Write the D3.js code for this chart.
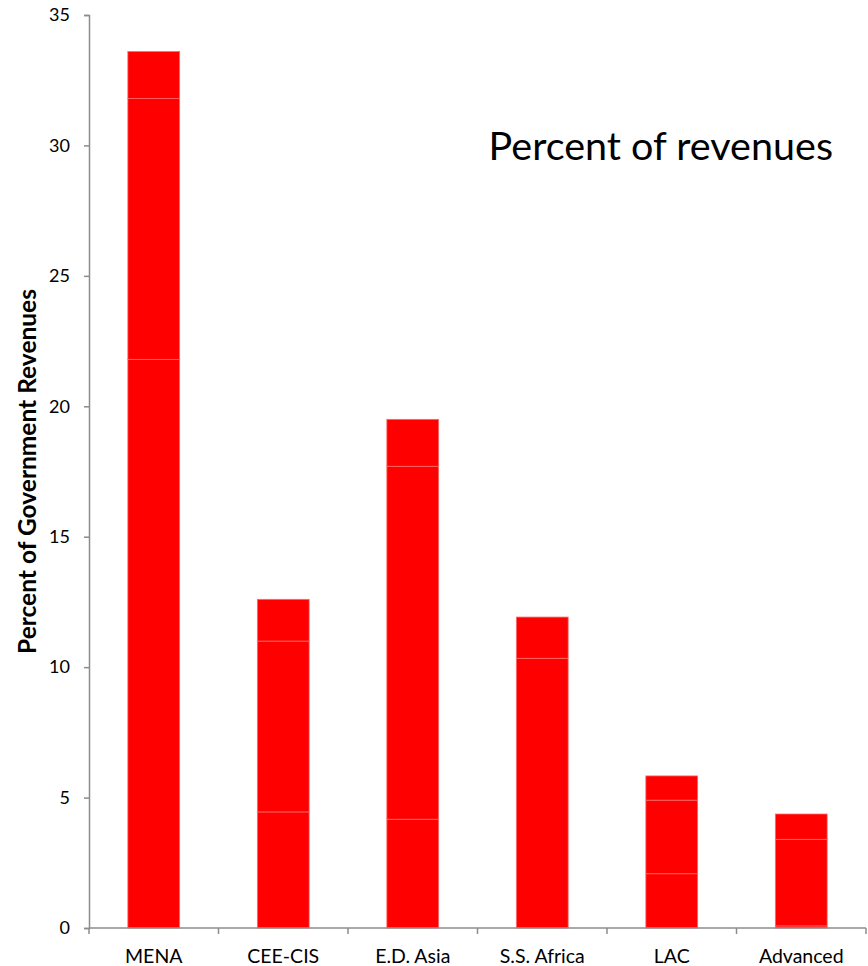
<!DOCTYPE html>
<html>
<head>
<meta charset="utf-8">
<script src="https://cdn.jsdelivr.net/npm/d3@7"></script>
<style>
  body { margin: 0; background: #fff; }
  svg { display: block; }
</style>
</head>
<body>
<svg id="chart" width="868" height="966"></svg>
<script>
const categories = ["MENA", "CEE-CIS", "E.D. Asia", "S.S. Africa", "LAC", "Advanced"];
const seriesNames = ["s1", "s2", "s3"];
const s1 = [21.8, 4.45, 4.17, 10.34, 2.08, 0.08];
const s2 = [10.0, 6.55, 13.53, 0.0, 2.82, 3.32];
const s3 = [1.8, 1.6, 1.8, 1.58, 0.93, 0.97];
const yTicks = [0, 5, 10, 15, 20, 25, 30, 35];
const title = "Percent of revenues";
const yLabel = "Percent of Government Revenues";

const svg = d3.select("#chart");
const margin = { left: 89, right: 2, top: 15, bottom: 38 };
const W = 868, H = 966;
const font = "Lato, 'Open Sans', sans-serif";

const x = d3.scaleBand().domain(categories).range([margin.left, W - margin.right]).paddingInner(0.6).paddingOuter(0.3);
const xOuter = d3.scaleBand().domain(categories).range([margin.left, W - margin.right]).padding(0);
const y = d3.scaleLinear().domain([0, 35]).range([H - margin.bottom, margin.top]);

const table = categories.map((c, i) => ({ cat: c, s1: s1[i], s2: s2[i], s3: s3[i] }));
const stacked = d3.stack().keys(seriesNames)(table);

svg.append("g").selectAll("g").data(stacked).join("g")
  .selectAll("rect").data(d => d).join("rect")
  .attr("x", d => x(d.data.cat))
  .attr("width", x.bandwidth())
  .attr("y", d => y(d[1]))
  .attr("height", d => Math.max(0, y(d[0]) - y(d[1])))
  .attr("fill", "#ff0000")
  .attr("stroke", "#ff6a6a")
  .attr("stroke-width", 0.8);

// Y axis
const yAxis = svg.append("g").attr("transform", `translate(${margin.left},0)`)
  .call(d3.axisLeft(y).tickValues(yTicks).tickSize(5).tickPadding(14).tickFormat(d3.format("d")));
yAxis.select(".domain").attr("stroke", "#8c8c8c").attr("stroke-width", 1.5);
yAxis.selectAll(".tick line").attr("stroke", "#8c8c8c").attr("stroke-width", 1.5);
yAxis.selectAll(".tick text").attr("font-family", font).attr("font-size", 18).attr("fill", "#000");

// X axis
const xg = svg.append("g").attr("transform", `translate(0,${y(0)})`);
xg.append("line").attr("x1", margin.left).attr("x2", W - margin.right).attr("y1", 0).attr("y2", 0)
  .attr("stroke", "#8c8c8c").attr("stroke-width", 1.5);
const bounds = categories.map(c => xOuter(c)).concat([xOuter(categories[categories.length - 1]) + xOuter.bandwidth()]);
xg.selectAll("line.tk").data(bounds).join("line").attr("class", "tk")
  .attr("x1", d => d).attr("x2", d => d).attr("y1", 0).attr("y2", 6)
  .attr("stroke", "#8c8c8c").attr("stroke-width", 1.5);
xg.selectAll("text").data(categories).join("text")
  .attr("x", d => x(d) + x.bandwidth() / 2)
  .attr("y", 35)
  .attr("text-anchor", "middle")
  .attr("font-family", font).attr("font-size", 19.5).attr("fill", "#000")
  .text(d => d);

// Y label
svg.append("text")
  .attr("transform", `translate(36,${(y(0) + y(35)) / 2}) rotate(-90)`)
  .attr("text-anchor", "middle")
  .attr("font-family", font).attr("font-size", 24.5).attr("font-weight", "bold").attr("fill", "#000")
  .text(yLabel);

// Title
svg.append("text")
  .attr("x", 833).attr("y", 160)
  .attr("text-anchor", "end")
  .attr("font-family", font).attr("font-size", 39.5).attr("fill", "#000")
  .text(title);
</script>
</body>
</html>
